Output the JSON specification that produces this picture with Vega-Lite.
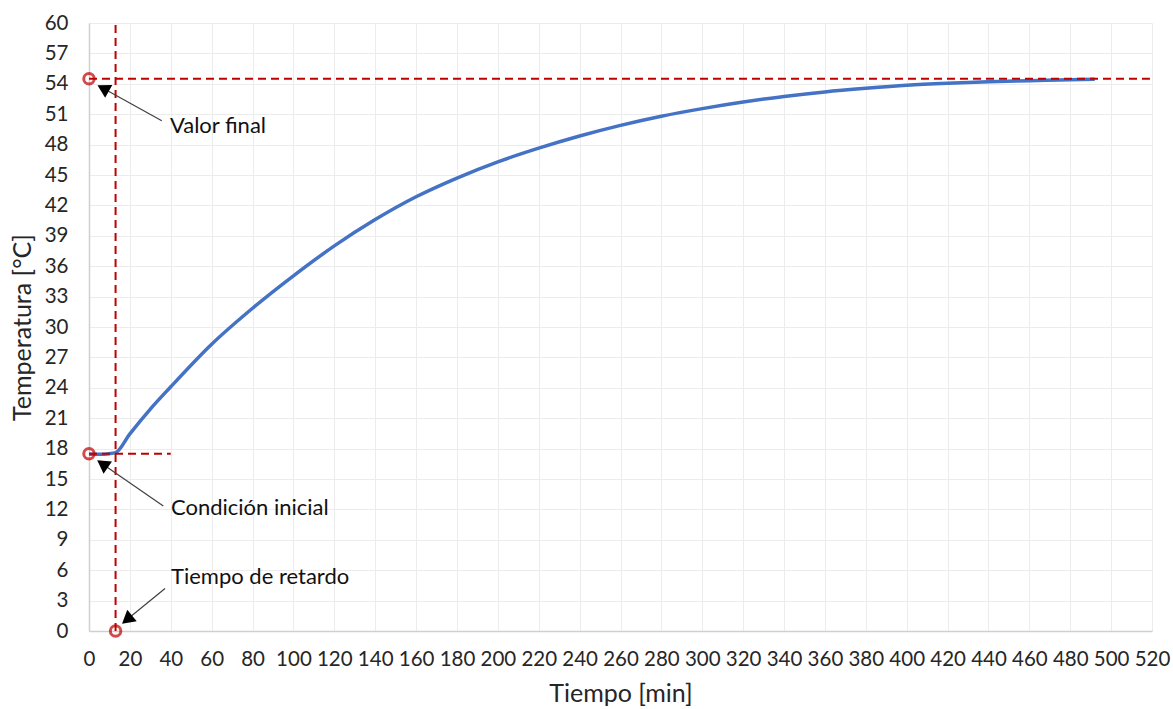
{
  "$schema": "https://vega.github.io/schema/vega-lite/v6.json",
  "width": 1063,
  "height": 608,
  "autosize": "none",
  "padding": {"left": 89, "top": 23, "right": 21, "bottom": 78},
  "background": "white",
  "config": {"view": {"stroke": null}, "font": "Lato", "axis": {"labelOverlap": false, "labelBound": false}},
  "datasets": {
    "curve": [
      {"t": 0, "T": 17.45}, {"t": 5, "T": 17.45}, {"t": 10, "T": 17.5}, {"t": 13, "T": 17.6},
      {"t": 20, "T": 19.45}, {"t": 30, "T": 21.9}, {"t": 40, "T": 24.1}, {"t": 60, "T": 28.3},
      {"t": 80, "T": 31.85}, {"t": 100, "T": 35.05}, {"t": 120, "T": 38.0}, {"t": 140, "T": 40.6},
      {"t": 160, "T": 42.85}, {"t": 180, "T": 44.7}, {"t": 200, "T": 46.3}, {"t": 220, "T": 47.65},
      {"t": 240, "T": 48.85}, {"t": 260, "T": 49.9}, {"t": 280, "T": 50.8}, {"t": 300, "T": 51.55},
      {"t": 320, "T": 52.2}, {"t": 340, "T": 52.75}, {"t": 360, "T": 53.2}, {"t": 380, "T": 53.55},
      {"t": 400, "T": 53.85}, {"t": 420, "T": 54.05}, {"t": 440, "T": 54.2}, {"t": 460, "T": 54.3},
      {"t": 480, "T": 54.4}, {"t": 492, "T": 54.45}
    ],
    "refs": [
      {"t": 13, "T": 0, "t2": 13, "T2": 60},
      {"t": 0, "T": 54.5, "t2": 519, "T2": 54.5},
      {"t": 0, "T": 17.5, "t2": 40, "T2": 17.5}
    ],
    "circles": [
      {"t": 0, "T": 54.5}, {"t": 0, "T": 17.5}, {"t": 13, "T": 0}
    ],
    "arrows": [
      {"t": 35.6, "T": 50.35, "t2": 6.9, "T2": 53.56, "ang": 299},
      {"t": 36.35, "T": 12.34, "t2": 6.6, "T2": 16.49, "ang": 304.6},
      {"t": 37.2, "T": 4.2, "t2": 18.6, "T2": 1.13, "ang": 230.5}
    ],
    "labels": [
      {"t": 39.6, "T": 49.85, "label": "Valor final"},
      {"t": 40.1, "T": 12.14, "label": "Condición inicial"},
      {"t": 40.1, "T": 5.33, "label": "Tiempo de retardo"}
    ]
  },
  "layer": [
    {
      "data": {"name": "curve"},
      "mark": {"type": "line", "color": "#4472c4", "strokeWidth": 3.5, "interpolate": "monotone"},
      "encoding": {
        "x": {
          "field": "t", "type": "quantitative",
          "scale": {"domain": [0, 520], "nice": false, "zero": false},
          "axis": {
            "values": [0,20,40,60,80,100,120,140,160,180,200,220,240,260,280,300,320,340,360,380,400,420,440,460,480,500,520],
            "tickCount": 40,
            "grid": true, "gridColor": "#ececec", "gridWidth": 1,
            "ticks": false, "domainColor": "#d0d0d0", "domainWidth": 1.5,
            "labelFont": "Lato", "labelFontSize": 20.5, "labelColor": "#262626",
            "labelPadding": 18, "labelFlush": false, "labelOverlap": false,
            "title": "Tiempo [min]", "titleFont": "Lato", "titleFontSize": 25,
            "titleFontWeight": "normal", "titleColor": "#262626",
            "titleX": 531.5, "titleY": 62, "titleBaseline": "middle", "titleAlign": "center"
          }
        },
        "y": {
          "field": "T", "type": "quantitative",
          "scale": {"domain": [0, 60], "nice": false},
          "axis": {
            "values": [0,3,6,9,12,15,18,21,24,27,30,33,36,39,42,45,48,51,54,57,60],
            "tickCount": 40,
            "grid": true, "gridColor": "#ececec", "gridWidth": 1,
            "ticks": false, "domainColor": "#d0d0d0", "domainWidth": 1.5,
            "labelFont": "Lato", "labelFontSize": 20.5, "labelColor": "#262626",
            "labelPadding": 21, "labelFlush": false, "labelOverlap": false,
            "title": "Temperatura [°C]", "titleFont": "Lato", "titleFontSize": 25,
            "titleFontWeight": "normal", "titleColor": "#262626",
            "titleX": -67, "titleY": 304, "titleBaseline": "middle", "titleAlign": "center", "titleAngle": -90
          }
        }
      }
    },
    {
      "data": {"name": "refs"},
      "mark": {"type": "rule", "color": "#c00000", "strokeWidth": 2, "strokeDash": [8, 5]},
      "encoding": {
        "x": {"field": "t", "type": "quantitative"},
        "y": {"field": "T", "type": "quantitative"},
        "x2": {"field": "t2"},
        "y2": {"field": "T2"}
      }
    },
    {
      "data": {"name": "circles"},
      "mark": {"type": "point", "shape": "circle", "filled": false, "color": "#c00000", "strokeWidth": 3, "size": 110},
      "encoding": {
        "x": {"field": "t", "type": "quantitative"},
        "y": {"field": "T", "type": "quantitative"}
      }
    },
    {
      "data": {"name": "arrows"},
      "mark": {"type": "rule", "color": "#404040", "strokeWidth": 1.2},
      "encoding": {
        "x": {"field": "t", "type": "quantitative"},
        "y": {"field": "T", "type": "quantitative"},
        "x2": {"field": "t2"},
        "y2": {"field": "T2"}
      }
    },
    {
      "data": {"name": "arrows"},
      "mark": {"type": "point", "shape": "triangle-up", "filled": true, "color": "#000000", "opacity": 1, "size": 220},
      "encoding": {
        "x": {"field": "t2", "type": "quantitative"},
        "y": {"field": "T2", "type": "quantitative"},
        "angle": {"field": "ang", "type": "quantitative", "scale": null}
      }
    },
    {
      "data": {"name": "labels"},
      "mark": {"type": "text", "align": "left", "baseline": "middle", "font": "Lato", "fontSize": 22, "color": "#111111"},
      "encoding": {
        "x": {"field": "t", "type": "quantitative"},
        "y": {"field": "T", "type": "quantitative"},
        "text": {"field": "label"}
      }
    }
  ]
}
